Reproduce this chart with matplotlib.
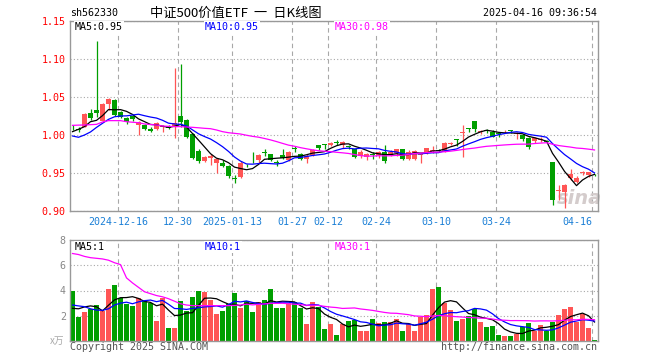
import numpy as np
import pandas as pd
import matplotlib
matplotlib.use('Agg')
import matplotlib.pyplot as plt

# daily K-line, 88 trading days (2024-12-04 .. 2025-04-16)
opens = [1.011, 1.008, 1.011, 1.0285, 1.033, 1.019, 1.041, 1.046, 1.030, 1.022,
         1.025, 1.013, 1.0127, 1.008, 1.008, 1.010, 1.012, 1.010, 1.025, 1.0197,
         1.0009, 0.9794, 0.966, 0.9693, 0.9636, 0.9627, 0.9592, 0.9435, 0.9451, 0.961,
         0.9675, 0.967, 0.9775, 0.975, 0.9645, 0.9737, 0.967, 0.9828, 0.9746, 0.969,
         0.9737, 0.987, 0.988, 0.9868, 0.9908, 0.9868, 0.985, 0.981, 0.9725, 0.9715,
         0.975, 0.9737, 0.978, 0.9737, 0.976, 0.981, 0.968, 0.968, 0.9735, 0.976,
         0.9795, 0.9805, 0.978, 0.988, 0.9945, 1.003, 1.009, 1.0184, 1.0045, 1.006,
         1.0045, 1.002, 1.0035, 1.0058, 1.0015, 1.000, 0.9956, 0.992, 0.9938, 0.9915,
         0.965, 0.926, 0.9254, 0.944, 0.9386, 0.9505, 0.9475, 0.948]
highs = [1.013, 1.010, 1.029, 1.0338, 1.124, 1.042, 1.049, 1.047, 1.031, 1.024,
         1.026, 1.018, 1.014, 1.010, 1.0165, 1.013, 1.013, 1.0886, 1.094, 1.021,
         1.002, 0.982, 0.972, 0.975, 0.969, 0.967, 0.960, 0.947, 0.966, 0.962,
         0.978, 0.9746, 0.9815, 0.9756, 0.967, 0.981, 0.9785, 0.985, 0.976, 0.9755,
         0.981, 0.9875, 0.9885, 0.991, 0.9934, 0.9915, 0.987, 0.982, 0.980, 0.9765,
         0.977, 0.9785, 0.9865, 0.980, 0.982, 0.982, 0.980, 0.980, 0.975, 0.983,
         0.9855, 0.9815, 0.9905, 0.991, 0.9948, 1.013, 1.0092, 1.0185, 1.007, 1.0075,
         1.006, 1.003, 1.006, 1.006, 1.0045, 1.001, 0.997, 0.9975, 0.998, 0.993,
         0.965, 0.934, 0.935, 0.9548, 0.946, 0.952, 0.9515, 0.9485]
lows = [1.006, 1.004, 1.010, 1.0197, 1.024, 1.018, 1.033, 1.025, 1.022, 1.0145,
        1.019, 1.000, 1.006, 1.004, 1.007, 1.004, 1.008, 0.9956, 1.011, 0.9956,
        0.968, 0.963, 0.964, 0.9605, 0.9496, 0.9575, 0.943, 0.9373, 0.943, 0.958,
        0.9636, 0.9635, 0.9728, 0.9655, 0.959, 0.968, 0.966, 0.978, 0.967, 0.963,
        0.9725, 0.980, 0.9815, 0.985, 0.987, 0.9825, 0.981, 0.970, 0.970, 0.967,
        0.968, 0.970, 0.9636, 0.972, 0.972, 0.9665, 0.967, 0.9665, 0.9636, 0.975,
        0.9767, 0.977, 0.977, 0.987, 0.9858, 0.9715, 1.0045, 1.0045, 1.001, 1.002,
        0.9975, 0.997, 1.002, 1.002, 0.9945, 0.9925, 0.981, 0.9895, 0.991, 0.989,
        0.9085, 0.9145, 0.9035, 0.941, 0.937, 0.948, 0.945, 0.9465]
closes = [1.010, 1.007, 1.0276, 1.0228, 1.029, 1.041, 1.047, 1.026, 1.024, 1.0175,
          1.021, 1.0175, 1.008, 1.0053, 1.0154, 1.012, 1.009, 1.016, 1.0175, 0.9978,
          0.9693, 0.9658, 0.9715, 0.9728, 0.968, 0.959, 0.9464, 0.9425, 0.9636, 0.960,
          0.9665, 0.9737, 0.9765, 0.967, 0.9635, 0.9693, 0.978, 0.9818, 0.9684, 0.9725,
          0.980, 0.9825, 0.987, 0.990, 0.9898, 0.991, 0.984, 0.9715, 0.978, 0.975,
          0.974, 0.978, 0.966, 0.978, 0.981, 0.968, 0.978, 0.9795, 0.9745, 0.9825,
          0.9805, 0.9795, 0.990, 0.9895, 0.994, 1.0045, 1.0085, 1.008, 1.0055, 1.005,
          0.998, 1.001, 1.0045, 1.0055, 1.0025, 0.9945, 0.984, 0.9956, 0.9948, 0.9905,
          0.9145, 0.927, 0.934, 0.9483, 0.943, 0.9515, 0.951, 0.947]
volumes = [4.0, 1.87, 2.27, 2.53, 2.88, 2.4, 4.08, 4.4, 3.39, 2.93,
           2.75, 3.39, 3.2, 3.01, 1.6, 3.39, 1.04, 1.04, 3.2, 2.4,
           3.52, 3.95, 3.87, 3.28, 2.11, 2.4, 2.93, 3.84, 2.64, 3.2,
           2.32, 3.12, 3.28, 4.08, 2.64, 2.64, 3.01, 3.12, 2.59, 1.31,
           3.12, 2.72, 0.93, 1.31, 0.45, 1.31, 1.6, 1.65, 0.8, 0.8,
           1.76, 1.44, 1.52, 1.52, 1.76, 0.8, 1.31, 0.8, 1.92, 2.08,
           4.13, 4.24, 3.04, 2.48, 1.6, 1.76, 2.0, 2.56, 1.52, 1.12,
           1.2, 0.48, 0.4, 0.4, 0.56, 1.12, 1.44, 0.8, 1.28, 0.8,
           1.52, 2.08, 2.56, 2.72, 1.52, 2.16, 1.04, 0.08]

tick_idx = [8, 18, 27, 37, 43, 51, 61, 71, 87]
tick_labels = ['2024-12-16', '12-30', '2025-01-13', '01-27', '02-12',
               '02-24', '03-10', '03-24', '04-16']

# MA values on the first days (history before the window)
ma5_head = [1.0044, 1.0075, 1.011, 1.0175]
ma10_head = [0.9987, 0.997, 1.000, 1.004, 1.010, 1.0154, 1.0206, 1.024, 1.025]
ma30_head = [1.0127, 1.013, 1.0132, 1.0136, 1.014, 1.0171, 1.0189, 1.0189, 1.0189, 1.0175,
             1.0168, 1.0162, 1.0145, 1.0138, 1.0132, 1.0118, 1.0114, 1.011, 1.011, 1.0105,
             1.0101, 1.0095, 1.0088, 1.0083, 1.0066, 1.0044, 1.003, 1.0022, 1.0013]
vma5_head = [2.59, 2.55, 2.7, 2.78]
vma10_head = [2.85, 2.78, 2.72, 2.55, 2.45, 2.43, 2.55, 2.85, 3.0]
vma30_head = [6.93, 6.85, 6.7, 6.6, 6.55, 6.5, 6.4, 6.2, 6.05, 5.0,
              4.6, 4.25, 3.9, 3.75, 3.6, 3.5, 3.35, 3.15, 2.95, 2.85,
              2.8, 2.8, 2.8, 2.8, 2.8, 2.8, 2.8, 2.82, 2.85]


def moving_avg(values, n, head):
    s = pd.Series(values, dtype=float).rolling(n).mean()
    s.iloc[:len(head)] = head
    return s.values


RED = '#ff5555'
GREEN = '#009f00'
GRID = '#a8a8a8'
MONO = 'DejaVu Sans Mono'
CJK = ['Noto Sans CJK SC', 'DejaVu Sans']

o = np.array(opens)
h = np.array(highs)
l = np.array(lows)
c = np.array(closes)
v = np.array(volumes)
x = np.arange(len(c))
up = c >= o
cols = np.where(up, RED, GREEN)

W, H = 660, 360
fig = plt.figure(figsize=(6.6, 3.6), dpi=100)
ax = fig.add_axes([70 / W, 1 - 211 / H, 528 / W, 190 / H])
axv = fig.add_axes([70 / W, 1 - 341 / H, 528 / W, 101 / H])

xoff = 2.5 / 6
grid_x = [i - xoff for i in tick_idx]
for a in (ax, axv):
    a.set_xlim(-xoff, len(c) - xoff)
    for s in a.spines.values():
        s.set_color('#999999')
        s.set_linewidth(1.0)
        s.set_zorder(5)
    a.set_xticks(grid_x)
    a.tick_params(length=0, pad=3)
    a.grid(axis='x', color=GRID, linestyle=(0, (4, 3)), linewidth=0.8)
    a.grid(axis='y', color=GRID, linestyle=(0, (1, 2)), linewidth=0.8)
    a.set_axisbelow(True)

# candles
ax.vlines(x, l, h, colors=cols, linewidth=0.9, zorder=2)
body = np.maximum(np.abs(c - o), 0.0008)
ax.bar(x, body, bottom=np.minimum(o, c), width=5 / 6, color=cols, linewidth=0, zorder=3)
ax.plot(x, moving_avg(c, 5, ma5_head), color='black', lw=0.9, zorder=4)
ax.plot(x, moving_avg(c, 10, ma10_head), color='#0000ff', lw=0.9, zorder=4)
ax.plot(x, moving_avg(c, 30, ma30_head), color='#ff00ff', lw=0.9, zorder=4)
ax.set_ylim(0.90, 1.15)
ax.set_yticks([0.90, 0.95, 1.00, 1.05, 1.10, 1.15])
ax.set_yticklabels(['0.90', '0.95', '1.00', '1.05', '1.10', '1.15'],
                   color='#ff0000', family=MONO, fontsize=7.2)
ax.set_xticklabels(tick_labels, color='#1a7fd6', family=MONO, fontsize=7.2)
ax.get_xticklabels()[-1].set_ha('right')
ax.tick_params(axis='x', pad=4)

# volume
axv.bar(x, v, width=5 / 6, color=cols, linewidth=0, zorder=3)
axv.plot(x, moving_avg(v, 5, vma5_head), color='black', lw=0.9, zorder=4)
axv.plot(x, moving_avg(v, 10, vma10_head), color='#0000ff', lw=0.9, zorder=4)
axv.plot(x, moving_avg(v, 30, vma30_head), color='#ff00ff', lw=0.9, zorder=4)
axv.set_ylim(0, 8)
axv.set_yticks([2, 4, 6, 8])
axv.set_yticklabels(['2', '4', '6', '8'], color='#888888', family=MONO, fontsize=7.2)
axv.set_xticklabels([])

# watermark
ax.text(84.5, 0.917, 'sina', color='#d4cccc', fontsize=14, fontweight='bold',
        style='italic', ha='center', va='center', zorder=1)


def ftext(px, py, s, **kw):
    fig.text(px / W, 1 - py / H, s, **kw)


ftext(70, 16.5, 'sh562330', family=MONO, fontsize=7.2, va='baseline')
ftext(150, 16.5, '中证500价值ETF  一  日K线图', family=CJK, fontsize=9.5, va='baseline')
ftext(597, 16.5, '2025-04-16 09:36:54', family=MONO, fontsize=7.2, va='baseline', ha='right')

lab = dict(family=MONO, fontsize=7.2, va='top', zorder=10,
           bbox=dict(facecolor='white', edgecolor='none', pad=0.5))
ftext(75, 22, 'MA5:0.95', color='black', **lab)
ftext(205, 22, 'MA10:0.95', color='#0000ff', **lab)
ftext(335, 22, 'MA30:0.98', color='#ff00ff', **lab)
ftext(75, 242, 'MA5:1', color='black', **lab)
ftext(205, 242, 'MA10:1', color='#0000ff', **lab)
ftext(335, 242, 'MA30:1', color='#ff00ff', **lab)

ftext(64, 341, 'x万', family=CJK, fontsize=7, color='#aaaaaa', ha='right', va='center')
ftext(70, 350, 'Copyright 2025 SINA.COM', family=MONO, fontsize=7.2, color='#555555', va='baseline')
ftext(597, 350, 'http://finance.sina.com.cn', family=MONO, fontsize=7.2, color='#555555',
      va='baseline', ha='right')

fig.savefig('out.png', dpi=100)
